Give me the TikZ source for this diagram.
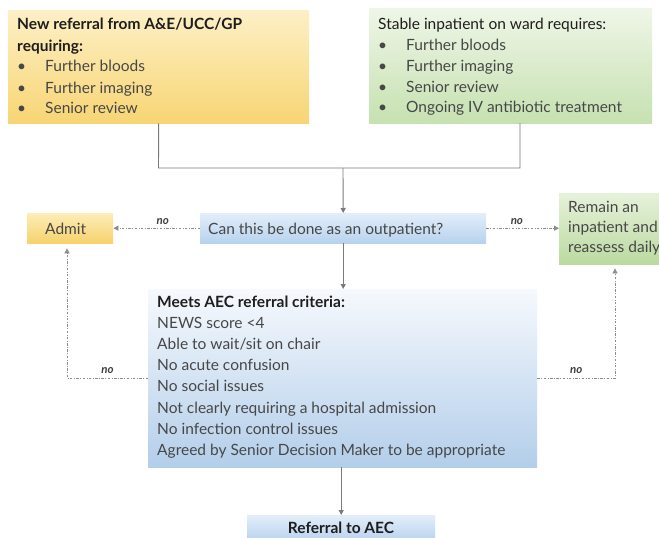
\documentclass[tikz,border=0pt]{standalone}
\usepackage{fontspec}
\setmainfont{Lato}
\usetikzlibrary{arrows.meta,calc}
\definecolor{txt}{HTML}{474747}
\definecolor{dark}{HTML}{1E1E1E}
\definecolor{lineg}{HTML}{7A7A7A}
\definecolor{dotg}{HTML}{8C8C8C}
\definecolor{yTop}{HTML}{FDF0C6}\definecolor{yBot}{HTML}{F8D574}
\definecolor{aTop}{HTML}{FCEDB8}\definecolor{aBot}{HTML}{F7D26C}
\definecolor{gTop}{HTML}{EFF6E7}\definecolor{gBot}{HTML}{C6E1B1}
\definecolor{rTop}{HTML}{E6F1DA}\definecolor{rBot}{HTML}{BBDAA0}
\definecolor{bTop}{HTML}{E3EEF9}\definecolor{bBot}{HTML}{B7D2EE}
\definecolor{cTop}{HTML}{F6F9FD}\definecolor{cBot}{HTML}{B3CEEA}
\tikzset{
  boxbase/.style={draw=none, rectangle, inner sep=0pt, anchor=north west},
  ybox/.style={boxbase, top color=yTop, bottom color=yBot},
  abox/.style={boxbase, top color=aTop, bottom color=aBot},
  gbox/.style={boxbase, top color=gTop, bottom color=gBot},
  rbox/.style={boxbase, top color=rTop, bottom color=rBot},
  bbox/.style={boxbase, top color=bTop, bottom color=bBot},
  cbox/.style={boxbase, top color=cTop, bottom color=cBot},
  body/.style={font=\fontsize{15.5}{21}\selectfont, text=txt, inner sep=0pt, anchor=base west},
  conn/.style={draw=lineg, line width=0.9pt},
  arr/.style={conn, -{Triangle[length=5pt,width=5pt]}},
  dotarr/.style={draw=dotg, line width=0.8pt, dash pattern=on 2.5pt off 1.5pt on 0.8pt off 1.5pt, -{Triangle[length=5pt,width=5pt]}},
  nolab/.style={font=\fontsize{11.5}{12}\selectfont\bfseries\itshape, text=dark!85, inner sep=0pt},
}
\newcommand{\bul}{\makebox[28pt][l]{\textbullet}}
\newcommand{\lines}[1]{\begin{tabular}[t]{@{}l@{}}#1\end{tabular}}
\begin{document}
\begin{tikzpicture}[x=1pt,y=-1pt]
\useasboundingbox[fill=white] (0,0) rectangle (659,538);
% boxes
\node[ybox, minimum width=301pt, minimum height=113pt] (yel) at (8,10) {};
\node[gbox, minimum width=283pt, minimum height=115pt] (grn) at (369,8) {};
\node[abox, minimum width=86pt, minimum height=30pt] (adm) at (27,213) {};
\node[bbox, minimum width=286pt, minimum height=30pt] (out) at (200,213) {};
\node[rbox, minimum width=101pt, minimum height=71pt] (rem) at (559,193) {};
\node[cbox, minimum width=389pt, minimum height=178pt] (cri) at (148,289) {};
\node[bbox, minimum width=188pt, minimum height=26pt] (ref) at (247,515) {};
% texts
\node[body] (yelt) at (17,30) {\lines{\textcolor{dark}{\bfseries New referral from A\&E/UCC/GP}\\
\textcolor{dark}{\bfseries requiring:}\\
\bul Further bloods\\ \bul Further imaging\\ \bul Senior review}};
\node[body] (grnt) at (378,29) {\lines{\textcolor{dark}{Stable inpatient on ward requires:}\\
\bul Further bloods\\ \bul Further imaging\\ \bul Senior review\\ \bul Ongoing IV antibiotic treatment}};
\node[body] (admt) at (45,234) {Admit};
\node[body] (outt) at (208,234) {Can this be done as an outpatient?};
\node[body, font=\fontsize{15.5}{20}\selectfont] (remt) at (568,212) {\lines{Remain an\\ inpatient and\\ reassess daily}};
\node[body, font=\fontsize{15.5}{21.2}\selectfont] (crit) at (157,307) {\lines{\textcolor{dark}{\bfseries Meets AEC referral criteria:}\\
NEWS score <4\\ Able to wait/sit on chair\\ No acute confusion\\ No social issues\\ Not clearly requiring a hospital admission\\ No infection control issues\\ Agreed by Senior Decision Maker to be appropriate}};
\node[body, anchor=base, text=dark, font=\fontsize{15.5}{18}\selectfont\bfseries] (reft) at (341,533) {Referral to AEC};
% connectors
\coordinate (jl) at (158.5,168);
\coordinate (jm) at (343,168);
\coordinate (jr) at (520,168);
\coordinate (gb) at (520,123);
\draw[conn] (yel.south) -- (jl) -- (jr) -- (gb);
\draw[arr] (jm) -- (out.north);
\draw[dotarr] (out.west) -- (adm.east) node[nolab, pos=0.43, above=3pt] (no1) {no};
\draw[dotarr] (out.east) -- (rem.west |- out.east) node[nolab, pos=0.42, above=3pt] (no2) {no};
\draw[arr] (out.south) -- (out.south |- cri.north);
\coordinate (cl) at (67,378);
\coordinate (cr) at (615,378);
\draw[dotarr, shorten >=5pt] (cri.west |- cl) -- (cl) node[nolab, pos=0.5, above=4pt] (no3) {no} -- (cl |- adm.south);
\draw[dotarr, shorten >=4pt] (cri.east |- cr) -- (cr) node[nolab, pos=0.5, above=4pt] (no4) {no} -- (cr |- rem.south);
\draw[arr] (ref.north |- cri.south) -- (ref.north);
\end{tikzpicture}
\end{document}
